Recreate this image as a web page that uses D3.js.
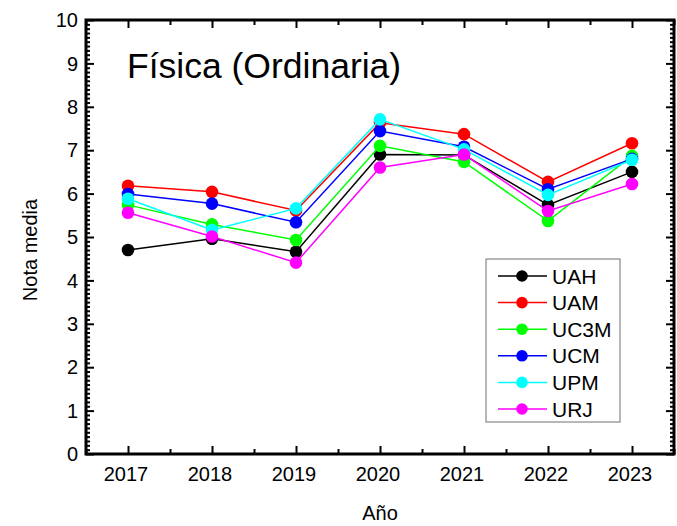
<!DOCTYPE html>
<html>
<head>
<meta charset="utf-8">
<script src="https://cdn.jsdelivr.net/npm/d3@7"></script>
<style>
  html, body { margin: 0; padding: 0; background: #fff; }
  svg { display: block; font-family: "Liberation Sans", Arial, sans-serif; }
</style>
</head>
<body>
<svg id="chart" width="677" height="526"></svg>
<script>
// Mean grade per university, Physics (ordinary call), 2017–2023
const years = [2017, 2018, 2019, 2020, 2021, 2022, 2023];
const UAH  = [4.70, 4.96, 4.66, 6.90, 6.89, 5.74, 6.50];
const UAM  = [6.18, 6.04, 5.61, 7.63, 7.37, 6.27, 7.16];
const UC3M = [5.74, 5.29, 4.93, 7.10, 6.73, 5.37, 6.87];
const UCM  = [5.99, 5.77, 5.34, 7.44, 7.08, 6.10, 6.80];
const UPM  = [5.88, 5.16, 5.66, 7.71, 7.02, 5.97, 6.78];
const URJ  = [5.56, 5.01, 4.41, 6.60, 6.90, 5.60, 6.22];
const seriesNames = ["UAH", "UAM", "UC3M", "UCM", "UPM", "URJ"];
const seriesColors = ["#000000", "#ff0000", "#00ff00", "#0000ff", "#00ffff", "#ff00ff"];
const yTicks = [0, 1, 2, 3, 4, 5, 6, 7, 8, 9, 10];

const seriesValues = [UAH, UAM, UC3M, UCM, UPM, URJ];
const series = seriesNames.map((name, i) => ({
  name, color: seriesColors[i],
  points: years.map((yr, j) => ({ year: yr, value: seriesValues[i][j] }))
}));

const svg = d3.select("#chart");
const plotL = 86, plotR = 674, plotT = 20, plotB = 454;

const x = d3.scaleLinear().domain([2016.5, 2023.5]).range([plotL, plotR]);
const y = d3.scaleLinear().domain([0, 10]).range([plotB, plotT]);

// Axes with inward ticks on all four sides
const minorY = d3.range(0, 10.001, 0.1).filter(v => Math.abs(v - Math.round(v)) > 1e-6);
const minorX = d3.range(2016.5, 2023.51, 1);

function frameAxis(axis, transform) {
  return svg.append("g").attr("transform", transform).call(axis)
    .call(g => g.select(".domain").remove());
}

// bottom
frameAxis(d3.axisTop(x).tickValues(years).tickSize(8).tickFormat(""), `translate(0,${plotB})`);
frameAxis(d3.axisTop(x).tickValues(minorX).tickSize(5).tickFormat(""), `translate(0,${plotB})`);
// top
frameAxis(d3.axisBottom(x).tickValues(years).tickSize(8).tickFormat(""), `translate(0,${plotT})`);
frameAxis(d3.axisBottom(x).tickValues(minorX).tickSize(5).tickFormat(""), `translate(0,${plotT})`);
// left
frameAxis(d3.axisRight(y).tickValues(yTicks).tickSize(8).tickFormat(""), `translate(${plotL},0)`);
frameAxis(d3.axisRight(y).tickValues(minorY).tickSize(4).tickFormat(""), `translate(${plotL},0)`);
// right
frameAxis(d3.axisLeft(y).tickValues(yTicks).tickSize(8).tickFormat(""), `translate(${plotR},0)`);
frameAxis(d3.axisLeft(y).tickValues(minorY).tickSize(4).tickFormat(""), `translate(${plotR},0)`);

svg.selectAll(".tick line").attr("stroke", "#000").attr("stroke-width", 2);

// frame
svg.append("rect")
  .attr("x", plotL).attr("y", plotT)
  .attr("width", plotR - plotL).attr("height", plotB - plotT)
  .attr("fill", "none").attr("stroke", "#000").attr("stroke-width", 3);

// tick labels
svg.append("g").selectAll("text").data(yTicks).join("text")
  .attr("x", plotL - 8).attr("y", d => y(d))
  .attr("dy", "0.36em").attr("text-anchor", "end")
  .attr("font-size", 20).attr("fill", "#000")
  .text(d => d);

svg.append("g").selectAll("text").data(years).join("text")
  .attr("x", d => x(d) - 2).attr("y", plotB + 20)
  .attr("dy", "0.36em").attr("text-anchor", "middle")
  .attr("font-size", 20).attr("fill", "#000")
  .text(d => d);

// axis titles
svg.append("text")
  .attr("transform", `translate(30,250) rotate(-90)`)
  .attr("text-anchor", "middle").attr("dy", "0.35em")
  .attr("font-size", 20).attr("fill", "#000")
  .text("Nota media");

svg.append("text")
  .attr("x", 380).attr("y", 513)
  .attr("text-anchor", "middle").attr("dy", "0.35em")
  .attr("font-size", 20).attr("fill", "#000")
  .text("Año");

// chart title inside plot
svg.append("text")
  .attr("x", 127).attr("y", 78)
  .attr("font-size", 35.5).attr("fill", "#000")
  .text("Física (Ordinaria)");

// series lines and markers
const line = d3.line().x(d => x(d.year)).y(d => y(d.value));
const sg = svg.append("g").selectAll("g").data(series).join("g");
sg.append("path")
  .attr("d", d => line(d.points))
  .attr("fill", "none").attr("stroke", d => d.color).attr("stroke-width", 1.5);
sg.selectAll("circle").data(d => d.points.map(p => ({ ...p, color: d.color }))).join("circle")
  .attr("cx", d => x(d.year)).attr("cy", d => y(d.value))
  .attr("r", 6.3).attr("fill", d => d.color);

// legend
const lg = svg.append("g");
lg.append("rect")
  .attr("x", 486).attr("y", 259).attr("width", 134).attr("height", 163)
  .attr("fill", "#fff").attr("stroke", "#888").attr("stroke-width", 1.2);
const items = lg.selectAll("g.item").data(series).join("g")
  .attr("class", "item")
  .attr("transform", (d, i) => `translate(0,${276 + i * 26.6})`);
items.append("line")
  .attr("x1", 498).attr("x2", 547).attr("y1", 0).attr("y2", 0)
  .attr("stroke", d => d.color).attr("stroke-width", 1.5);
items.append("circle")
  .attr("cx", 522).attr("cy", 0).attr("r", 5.8).attr("fill", d => d.color);
items.append("text")
  .attr("x", 552).attr("y", 0).attr("dy", "0.36em")
  .attr("font-size", 21).attr("fill", "#000")
  .text(d => d.name);
</script>
</body>
</html>
